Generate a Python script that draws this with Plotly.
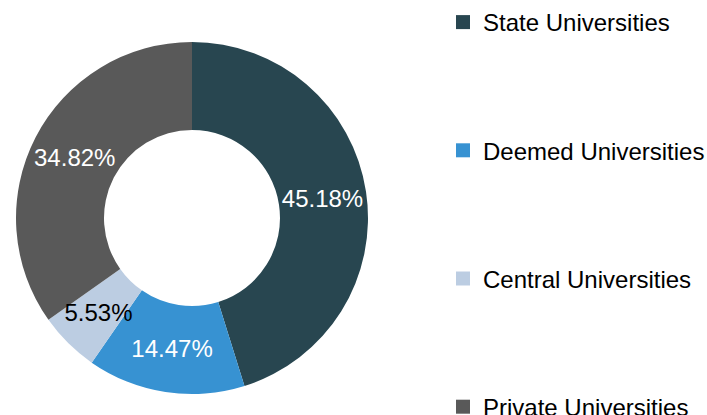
import plotly.graph_objects as go

# DATA -------------------------------------------------------------
categories = ["State Universities", "Deemed Universities",
              "Central Universities", "Private Universities"]
shares = [45.18, 14.47, 5.53, 34.82]
colors = ["#284650", "#3792D2", "#BCCDE2", "#595959"]
label_colors = ["white", "white", "black", "white"]
# the thin slice keeps its label level, the others are placed automatically
flat_label = [False, False, True, False]

FONT = "Arial, Liberation Sans, sans-serif"
W, H = 707, 415
CX, CY, R = 192, 218, 176


def domain(r):
    return dict(x=[(CX - r) / W, (CX + r) / W],
                y=[1 - (CY + r) / H, 1 - (CY - r) / H])


fmt = "%{value:.2f}%"
fig = go.Figure()


def add_donut(show, orientation, fill, r):
    fig.add_trace(go.Pie(
        labels=categories, values=shares, hole=0.5,
        sort=False, direction="clockwise", rotation=0,
        marker=dict(colors=fill, line=dict(width=0)),
        texttemplate=[fmt if s else "" for s in show],
        textposition="inside", insidetextorientation=orientation,
        textfont=dict(family=FONT, size=24, color=label_colors),
        showlegend=False, domain=domain(r),
        hoverinfo="label+value" if orientation == "auto" else "skip",
    ))


add_donut([not f for f in flat_label], "auto", colors, R)
# label-only copy, a bit smaller so the level label sits mid-ring
add_donut(flat_label, "horizontal", ["rgba(0,0,0,0)"] * len(colors), 156)

# legend entries (one group each so they can be spread out) ---------
for name, c in zip(categories, colors):
    fig.add_trace(go.Scatter(
        x=[None], y=[None], mode="markers", name=name,
        legendgroup=name,
        marker=dict(symbol="square", size=14, color=c),
    ))

fig.update_layout(
    width=W, height=H,
    margin=dict(l=0, r=0, t=0, b=0, autoexpand=False),
    paper_bgcolor="white", plot_bgcolor="white",
    font=dict(family=FONT, size=24, color="black"),
    uniformtext=dict(minsize=24, mode="show"),
    xaxis=dict(visible=False), yaxis=dict(visible=False),
    legend=dict(x=443 / W, xanchor="left", y=1.0, yanchor="top",
                tracegroupgap=94, traceorder="grouped", maxheight=1000,
                font=dict(family=FONT, size=24, color="black"),
                bgcolor="rgba(0,0,0,0)"),
)

fig.write_html("out.html", config={"displayModeBar": False},
               post_script="document.body.style.margin='0';")
